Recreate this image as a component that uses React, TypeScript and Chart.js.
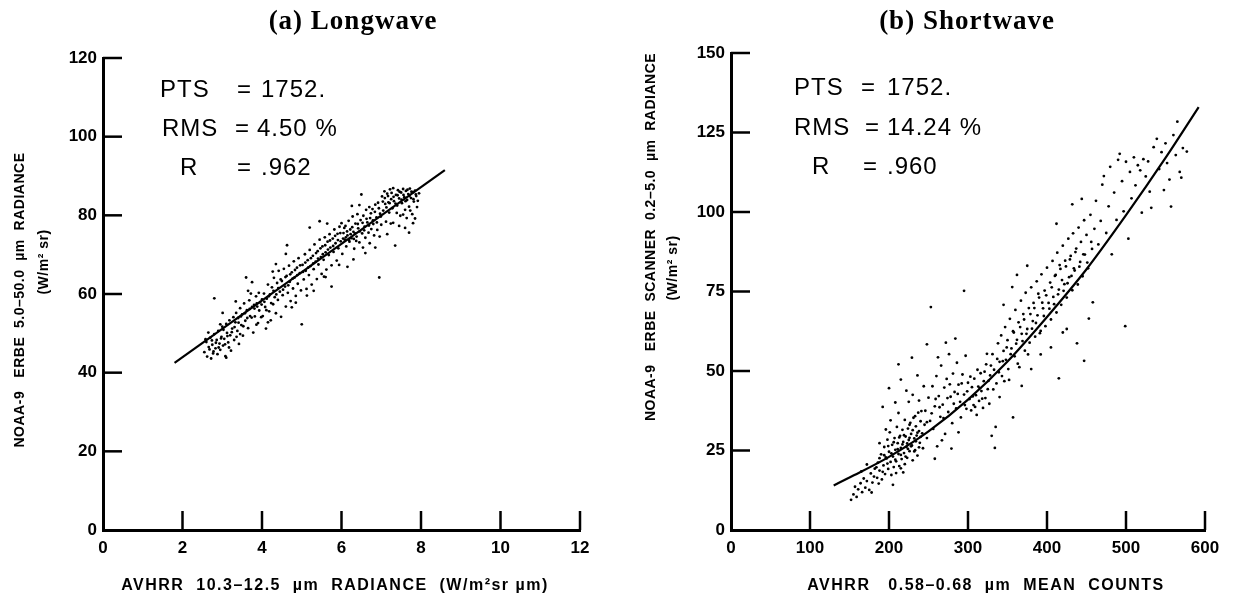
import React, { useEffect, useRef } from "react";
import { Chart, registerables } from "chart.js";

Chart.register(...registerables);

// ---------- DATA ----------
const LW_X_TICKS = [0, 2, 4, 6, 8, 10, 12];
const LW_Y_TICKS = [0, 20, 40, 60, 80, 100, 120];
const SW_X_TICKS = [0, 100, 200, 300, 400, 500, 600];
const SW_Y_TICKS = [0, 25, 50, 75, 100, 125, 150];

const LW_FIT: [number, number][] = [[1.8, 42.5], [8.6, 91.5]];
const SW_FIT: [number, number][] = [
  [130, 14], [150, 16.5], [200, 23], [250, 31], [300, 41], [350, 53],
  [400, 67], [450, 82], [500, 99], [550, 117], [592, 133],
];

const LW_STATS = ["1752.", "4.50 %", ".962"];
const SW_STATS = ["1752.", "14.24 %", ".960"];

const LW_POINTS: [number, number][] = [
  [2.55,45.2],[2.6,47.8],[2.62,44.1],[2.66,46.5],[2.7,48.9],[2.72,43.6],[2.75,47.1],[2.78,45.4],[2.8,49.8],[2.83,46.2],
  [2.86,48.3],[2.88,44.7],[2.9,50.6],[2.93,47.4],[2.95,45.8],[2.98,49.1],[3.0,51.7],[3.02,46.9],[3.05,48.6],[3.08,44.2],
  [3.1,52.4],[3.12,50.1],[3.15,47.7],[3.18,53.3],[3.2,49.5],[3.22,45.6],[3.25,51.2],[3.28,54.1],[3.3,48.3],[3.33,52.8],
  [2.65,50.2],[2.58,48.5],[2.8,58.9],[2.95,52.3],[3.1,43.8],
  [3.35,55.2],[3.38,50.6],[3.4,53.9],[3.42,47.3],[3.45,56.4],[3.48,52.1],[3.5,54.8],[3.52,49.4],[3.55,57.6],[3.58,53.2],
  [3.6,64.2],[3.62,55.9],[3.65,51.3],[3.68,58.4],[3.7,54.4],[3.72,60.1],[3.75,56.7],[3.78,50.2],[3.8,57.2],[3.82,54.3],
  [3.85,59.4],[3.88,56.8],[3.9,52.6],[3.92,60.3],[3.95,57.9],[3.98,54.1],[4.0,58.6],[3.65,60.8],[3.45,49.8],[3.75,63.0],
  [4.02,54.4],[4.05,60.1],[4.08,56.7],[4.1,51.2],[4.12,58.8],[4.15,62.4],[4.18,55.6],[4.2,59.9],[4.22,53.3],[4.25,61.7],
  [4.28,57.4],[4.3,64.1],[4.32,59.2],[4.35,55.1],[4.38,62.8],[4.4,58.5],[4.42,65.9],[4.45,60.6],[4.48,54.2],[4.5,63.3],
  [4.52,59.7],[4.55,66.4],[4.58,61.9],[4.6,56.8],[4.62,64.6],[4.65,60.3],[4.68,67.2],[4.7,63.1],[4.72,58.2],[4.75,65.5],
  [4.78,61.4],[4.8,68.3],[4.82,64.2],[4.85,59.5],[4.88,66.7],[4.9,62.6],[4.92,69.1],[4.95,65.3],[4.98,60.9],[5.0,52.3],
  [4.35,67.6],[4.15,52.8],[4.6,70.2],[4.75,56.6],
  [5.02,67.4],[5.05,63.7],[5.08,70.1],[5.1,65.9],[5.12,61.3],[5.15,68.6],[5.18,64.8],[5.2,71.2],[5.22,67.1],[5.25,62.4],
  [5.28,69.7],[5.3,66.3],[5.32,72.6],[5.35,68.2],[5.38,63.8],[5.4,70.9],[5.42,67.5],[5.45,73.8],[5.48,69.4],[5.5,65.1],
  [5.52,72.1],[5.55,68.7],[5.58,74.4],[5.6,70.6],[5.62,66.2],[5.65,73.3],[5.68,69.9],[5.7,75.2],[5.72,71.8],[5.75,67.3],
  [5.78,74.1],[5.8,70.7],[5.82,76.4],[5.85,72.9],[5.88,68.5],[5.9,75.3],[5.92,71.6],[5.95,77.1],[5.98,73.4],[6.0,78.0],
  [5.3,60.8],[5.6,64.3],[5.45,78.5],[5.75,61.9],[5.2,76.9],
  [6.02,70.2],[6.05,75.5],[6.08,73.8],[6.1,77.3],[6.12,72.1],[6.15,74.9],[6.18,78.6],[6.2,73.3],[6.22,76.4],[6.25,74.2],
  [6.28,79.7],[6.3,75.8],[6.32,71.5],[6.35,77.9],[6.38,74.6],[6.4,80.3],[6.42,76.7],[6.45,73.1],[6.48,78.8],[6.5,85.3],
  [6.52,75.4],[6.55,79.9],[6.58,77.1],[6.6,74.3],[6.62,81.4],[6.65,78.2],[6.68,75.6],[6.7,82.1],[6.72,79.3],[6.75,76.5],
  [6.78,81.6],[6.8,77.8],[6.82,74.9],[6.85,82.7],[6.88,79.5],[6.9,76.3],[6.92,83.2],[6.95,64.2],[6.97,80.4],[7.0,77.6],
  [6.3,68.8],[6.6,70.4],[6.85,71.8],[6.15,66.9],[6.45,82.6],
  [7.02,84.8],[7.05,81.2],[7.08,86.1],[7.1,82.9],[7.12,78.4],[7.15,85.5],[7.18,83.3],[7.2,80.7],[7.22,86.6],[7.25,84.1],
  [7.28,81.8],[7.3,86.9],[7.32,83.6],[7.35,72.3],[7.37,85.2],[7.4,82.5],[7.42,86.4],[7.45,84.3],[7.48,79.9],[7.5,85.8],
  [7.52,83.1],[7.55,86.7],[7.58,84.6],[7.6,81.4],[7.62,86.2],[7.65,83.9],[7.68,85.4],[7.7,82.2],[7.72,86.8],[7.75,84.4],
  [7.78,80.3],[7.8,85.9],[7.82,83.5],[7.85,86.3],[7.88,84.9],[7.9,82.1],[7.6,76.8],[7.45,77.3],[7.7,75.6],[7.85,79.2],
  [7.15,75.2],[7.3,78.1],[7.55,80.2],[7.8,78.0],[7.95,85.6],
  [2.68,45.9],[2.74,48.2],[2.77,44.9],[2.84,47.6],[2.91,46.4],[2.97,48.7],[3.03,50.9],[3.07,47.2],[3.13,49.3],[3.17,46.4],
  [3.24,50.3],[3.31,51.6],[3.36,49.1],[3.41,52.7],[3.47,54.3],[3.53,51.8],[3.57,55.1],[3.63,53.9],[3.69,56.2],[3.74,54.0],
  [3.81,56.3],[3.87,57.6],[3.93,55.8],[3.99,57.3],[4.06,58.0],[4.11,55.9],[4.17,59.4],[4.23,57.7],[4.29,60.8],[4.36,59.9],
  [4.41,61.5],[4.47,63.7],[4.53,61.1],[4.59,64.3],[4.66,62.2],[4.71,65.0],[4.77,63.9],[4.83,66.1],[4.89,64.8],[4.96,67.3],
  [5.03,65.6],[5.09,68.0],[5.16,66.7],[5.23,69.1],[5.29,67.8],[5.36,70.4],[5.41,69.0],[5.47,71.6],[5.53,70.1],[5.59,72.4],
  [5.66,71.3],[5.71,73.6],[5.79,72.2],[5.84,74.8],[5.91,73.7],[5.97,75.5],[6.04,74.1],[6.07,76.8],[6.11,74.4],[6.14,75.9],
  [6.19,73.7],[6.23,75.2],[6.27,77.0],[6.31,74.0],[6.34,75.4],[6.37,73.5],[6.41,77.8],[6.46,75.9],[6.53,78.1],[6.57,76.2],
  [6.63,79.1],[6.69,77.4],[6.74,80.5],[6.79,78.7],[6.84,80.9],[6.89,78.2],[6.94,81.8],[6.99,79.7],[7.04,83.5],[7.09,84.4],
  [7.13,82.0],[7.17,84.9],[7.21,83.1],[7.26,85.7],[7.31,84.7],[7.36,83.0],[7.41,85.1],[7.46,86.0],[7.51,84.0],[7.56,85.2],
  [7.61,83.6],[7.66,86.5],[7.71,84.9],[7.76,86.0],[7.81,84.1],[7.87,85.3],[7.92,83.7],[7.73,81.2],[7.64,79.3],[7.39,80.6],
  [7.24,77.9],[6.96,74.6],[6.71,72.9],[6.54,71.8],[5.94,67.4],[5.56,64.4],[5.13,59.6],[4.63,72.4],[4.27,65.7],[3.86,52.2],
  [3.34,58.1],[3.01,55.2],[4.85,57.8],[5.64,77.9],[6.26,82.4],
];

const SW_POINTS: [number, number][] = [
  [152,9.5],[155,11.2],[157,13.6],[159,10.4],[161,12.8],[164,14.7],[166,11.9],[168,16.2],[170,13.3],[172,15.4],
  [175,12.6],[177,17.8],[179,14.9],[182,19.3],[165,18.4],[172,20.6],[178,11.8],
  [185,16.4],[186,21.2],[188,18.7],[190,23.8],[191,15.9],[193,20.3],[194,26.1],[195,17.6],[197,22.5],[198,28.4],
  [199,19.2],[200,24.6],[201,30.7],[202,21.4],[203,17.3],[204,26.8],[205,23.1],[206,19.8],[207,28.9],[208,25.2],
  [209,21.6],[210,32.4],[211,27.3],[212,23.9],[213,20.1],[214,29.6],[215,25.8],[216,22.3],[217,31.5],[218,27.7],
  [219,24.2],[220,34.6],[221,29.4],[222,26.1],[223,22.7],[224,31.9],[225,28.3],[226,24.8],[227,33.7],[228,30.2],
  [229,26.6],[230,21.9],[231,35.3],[232,28.8],[233,25.1],[234,32.6],[235,29.7],[236,23.4],[237,36.9],[238,31.1],
  [239,27.4],[240,34.2],[242,30.4],[243,25.7],[245,33.1],[196,31.6],[212,36.8],[225,40.3],[205,14.2],[218,18.1],
  [230,42.5],[188,27.3],[202,34.5],
  [192,38.7],[200,44.6],[208,40.1],[215,47.3],[222,43.8],[229,54.2],[236,48.6],[244,45.2],[238,40.7],[212,52.1],[248,58.4],
  [246,37.5],[248,28.9],[250,41.6],[252,34.3],[253,70.1],[255,45.2],[256,31.8],[258,38.9],[260,48.4],[261,26.3],
  [263,42.1],[265,35.6],[266,51.7],[268,39.4],[270,44.8],[271,30.2],[273,47.5],[275,37.1],[276,55.3],[278,41.9],
  [280,33.6],[281,49.2],[283,43.4],[285,38.2],[286,52.6],[288,45.7],[290,40.3],[291,35.4],[293,48.9],[295,75.2],
  [295,42.6],[297,54.8],[298,38.1],[300,46.3],[258,22.4],[267,28.2],[279,25.6],[288,30.7],[272,58.9],[262,54.3],[284,60.2],
  [302,41.2],[304,37.6],[305,44.9],[307,39.3],[308,47.6],[310,42.4],[311,36.2],[313,45.1],[314,40.6],[316,49.3],
  [317,43.7],[319,38.4],[320,46.8],[322,41.5],[323,52.1],[325,44.3],[327,39.7],[328,48.6],
  [334,25.8],[335,32.4],[330,29.6],
  [331,55.3],[333,50.4],[336,46.1],[338,58.7],[340,52.9],[342,61.2],[343,48.4],[345,56.3],[347,63.8],[348,53.5],
  [350,59.7],[352,47.2],[353,66.4],[355,57.1],[357,35.4],[357,62.5],[359,54.6],[360,69.2],[362,59.8],[364,65.3],
  [365,51.2],[367,72.1],[368,61.7],[370,67.9],[372,56.4],[373,74.6],[375,63.2],[377,69.8],[378,58.9],[380,76.3],
  [382,65.7],[383,71.4],[385,60.8],[387,78.2],[388,67.5],[390,73.1],[392,62.6],[393,80.4],[395,69.7],[397,75.3],
  [398,64.1],[400,82.5],[345,70.8],[356,76.4],[368,45.3],[380,50.6],[392,55.2],[340,41.8],[375,83.1],[362,80.2],
  [402,71.4],[404,77.8],[405,66.2],[407,84.6],[408,73.3],[410,79.9],[412,68.4],[413,87.2],[415,47.7],[415,75.6],
  [417,82.1],[418,70.8],[420,89.4],[422,77.3],[423,84.7],[425,73.1],[427,91.6],[428,79.5],[430,86.2],[432,75.4],
  [433,93.3],[435,81.6],[437,88.5],[438,58.7],[439,77.2],[440,95.1],[442,84.3],[443,90.6],[445,79.8],[447,53.2],
  [447,97.4],[448,86.6],[450,92.8],[452,82.3],[453,66.5],[455,99.1],[457,88.4],[458,71.6],[460,94.7],[405,57.4],
  [425,63.2],[432,102.4],[444,104.1],[412,96.3],[420,62.1],
  [462,103.5],[465,89.8],[468,97.2],[470,108.6],[472,111.3],[475,93.4],[478,101.8],[480,114.2],[482,86.7],[485,106.1],
  [488,97.5],[490,116.4],[492,118.3],[495,109.7],[497,100.2],[499,64.1],[500,115.8],[503,91.6],[505,112.6],[507,104.3],
  [510,117.2],[512,108.4],[515,114.7],[518,113.1],[520,99.8],[522,116.6],[525,111.2],[528,115.9],[530,106.4],[532,101.3],
  [535,120.4],[539,123.0],[542,113.5],[545,118.8],[548,106.9],[550,121.6],[552,115.4],[555,110.2],[557,101.7],[560,124.2],
  [563,117.9],[565,128.4],[568,112.6],[570,110.8],[572,120.1],[577,119.0],
  [196,22.8],[199,26.4],[203,24.1],[206,27.6],[208,22.1],[211,25.4],[213,29.1],[215,23.6],[217,26.9],[219,29.8],
  [221,23.1],[223,27.2],[224,25.5],[226,29.0],[228,26.3],[230,31.4],[232,24.7],[234,27.9],[236,30.6],[238,26.0],
  [240,29.3],[215,19.4],[209,17.9],[198,20.9],[192,18.3],[188,22.6],[184,19.7],[181,16.8],[187,14.6],[194,23.5],
  [220,20.7],[226,33.1],[233,35.8],[241,37.4],
  [248,33.9],[254,36.7],[259,41.2],[264,38.6],[269,35.2],[274,41.5],[277,45.8],[282,39.7],[287,42.8],[292,46.1],
  [296,39.3],[299,43.6],[303,48.2],[306,42.0],[309,38.7],[312,50.4],[315,44.6],[318,41.3],[321,49.8],[324,55.4],
  [326,46.9],[329,51.7],[332,44.2],[337,53.8],[339,49.6],[344,53.1],[346,46.8],[349,57.4],[351,50.6],[354,55.3],
  [358,62.1],[361,58.6],[363,52.3],[366,63.8],[369,59.4],[371,66.2],[374,61.7],[376,55.2],[379,67.9],[381,63.3],
  [384,69.8],[386,65.1],[389,74.3],[391,61.9],[394,71.5],[396,67.3],[399,73.8],[403,69.6],[406,76.3],[409,71.0],
  [411,80.2],[414,74.1],[416,83.3],[419,78.6],[421,75.2],[424,82.9],[426,77.6],[429,85.1],[431,79.9],[434,82.3],
  [436,87.4],[441,82.8],[446,86.7],[451,84.1],[456,90.6],
];

// ---------- PANEL LAYOUT ----------
type PanelCfg = {
  left: number;
  padding: { left: number; right: number; top: number; bottom: number };
  points: [number, number][];
  fit: [number, number][];
  curved: boolean;
  xTicks: number[];
  yTicks: number[];
  title: string;
  titleX: number;
  stats: string[];
  statRows: { label: string; lx: number; ex: number; vx: number; y: number }[];
  xTitle: string;
  xTitleX: number;
  yTitle1: string;
  yTitle1Pos: [number, number];
  yTitle2: string;
  yTitle2Pos: [number, number];
};

const LEFT_CFG: PanelCfg = {
  left: 0,
  padding: { left: 63, right: 37, top: 58, bottom: 36 },
  points: LW_POINTS,
  fit: LW_FIT,
  curved: false,
  xTicks: LW_X_TICKS,
  yTicks: LW_Y_TICKS,
  title: "(a) Longwave",
  titleX: 353,
  stats: LW_STATS,
  statRows: [
    { label: "PTS", lx: 160, ex: 237, vx: 261, y: 97 },
    { label: "RMS", lx: 162, ex: 235, vx: 257, y: 136 },
    { label: "R", lx: 180, ex: 237, vx: 261, y: 175 },
  ],
  xTitle: "AVHRR  10.3–12.5  µm  RADIANCE  (W/m²sr µm)",
  xTitleX: 335,
  yTitle1: "NOAA-9   ERBE  5.0–50.0  µm  RADIANCE",
  yTitle1Pos: [20, 300],
  yTitle2: "(W/m² sr)",
  yTitle2Pos: [44, 262],
};

const RIGHT_CFG: PanelCfg = {
  left: 617,
  padding: { left: 74, right: 29, top: 53, bottom: 36 },
  points: SW_POINTS,
  fit: SW_FIT,
  curved: true,
  xTicks: SW_X_TICKS,
  yTicks: SW_Y_TICKS,
  title: "(b) Shortwave",
  titleX: 350,
  stats: SW_STATS,
  statRows: [
    { label: "PTS", lx: 177, ex: 244, vx: 270, y: 95 },
    { label: "RMS", lx: 177, ex: 248, vx: 270, y: 135 },
    { label: "R", lx: 195, ex: 246, vx: 270, y: 174 },
  ],
  xTitle: "AVHRR   0.58–0.68  µm  MEAN  COUNTS",
  xTitleX: 369,
  yTitle1: "NOAA-9   ERBE  SCANNER  0.2–5.0  µm  RADIANCE",
  yTitle1Pos: [34, 237],
  yTitle2: "(W/m² sr)",
  yTitle2Pos: [56, 268],
};

function makeDecor(cfg: PanelCfg) {
  return {
    id: "decor",
    afterDraw(chart: any) {
      const { ctx, chartArea: ca, scales } = chart;
      const xs = scales.x;
      const ys = scales.y;
      ctx.save();
      ctx.strokeStyle = "#000";
      ctx.fillStyle = "#000";
      ctx.lineWidth = 2.5;
      // inward ticks
      xs.ticks.forEach((t: any) => {
        if (t.value === xs.min) return;
        const px = xs.getPixelForValue(t.value);
        ctx.beginPath();
        ctx.moveTo(px, ca.bottom);
        ctx.lineTo(px, ca.bottom - 19);
        ctx.stroke();
      });
      ys.ticks.forEach((t: any) => {
        if (t.value === ys.min) return;
        const py = ys.getPixelForValue(t.value);
        ctx.beginPath();
        ctx.moveTo(ca.left, py);
        ctx.lineTo(ca.left + 19, py);
        ctx.stroke();
      });
      // title
      ctx.font = 'bold 27px "Liberation Serif"';
      (ctx as any).letterSpacing = "1px";
      ctx.textAlign = "center";
      ctx.textBaseline = "alphabetic";
      ctx.fillText(cfg.title, cfg.titleX, 29);
      // stats
      ctx.font = '24px "Liberation Sans"';
      (ctx as any).letterSpacing = "1px";
      ctx.textAlign = "left";
      cfg.statRows.forEach((r, i) => {
        ctx.fillText(r.label, r.lx, r.y);
        ctx.fillText("=", r.ex, r.y);
        ctx.fillText(cfg.stats[i], r.vx, r.y);
      });
      // x title
      ctx.font = 'bold 16px "Liberation Sans"';
      (ctx as any).letterSpacing = "1.5px";
      ctx.textAlign = "center";
      ctx.fillText(cfg.xTitle, cfg.xTitleX, 590);
      // y titles
      ctx.font = 'bold 14px "Liberation Sans"';
      (ctx as any).letterSpacing = "0.5px";
      ctx.textBaseline = "middle";
      const drawRot = (txt: string, pos: [number, number]) => {
        ctx.save();
        ctx.translate(pos[0], pos[1]);
        ctx.rotate(-Math.PI / 2);
        ctx.fillText(txt, 0, 0);
        ctx.restore();
      };
      drawRot(cfg.yTitle1, cfg.yTitle1Pos);
      drawRot(cfg.yTitle2, cfg.yTitle2Pos);
      ctx.restore();
    },
  };
}

function Panel({ cfg }: { cfg: PanelCfg }) {
  const ref = useRef<HTMLCanvasElement>(null);
  useEffect(() => {
    if (!ref.current) return;
    const tickFont = { family: "Liberation Sans", size: 17, weight: "bold" as const };
    const chart = new Chart(ref.current, {
      type: "scatter",
      data: {
        datasets: [
          {
            data: cfg.points.map(([x, y]) => ({ x, y })),
            backgroundColor: "#000",
            borderWidth: 0,
            pointRadius: 1.4,
            pointStyle: "circle",
          },
          {
            type: "line",
            data: cfg.fit.map(([x, y]) => ({ x, y })),
            borderColor: "#000",
            borderWidth: 2.2,
            pointRadius: 0,
            fill: false,
            tension: cfg.curved ? 0.4 : 0,
            cubicInterpolationMode: cfg.curved ? "monotone" : "default",
          } as any,
        ],
      },
      options: {
        animation: false,
        responsive: false,
        events: [],
        layout: { padding: cfg.padding },
        plugins: {
          legend: { display: false },
          tooltip: { enabled: false },
          title: { display: false },
        },
        scales: {
          x: {
            type: "linear",
            min: cfg.xTicks[0],
            max: cfg.xTicks[cfg.xTicks.length - 1],
            afterBuildTicks: (s: any) => {
              s.ticks = cfg.xTicks.map((v) => ({ value: v }));
            },
            afterFit: (s: any) => {
              s.height = 30;
            },
            grid: { display: false, drawTicks: false },
            border: { display: true, color: "#000", width: 3 },
            ticks: {
              color: "#000",
              font: tickFont,
              padding: 8,
              maxRotation: 0,
              autoSkip: false,
            },
          },
          y: {
            type: "linear",
            min: cfg.yTicks[0],
            max: cfg.yTicks[cfg.yTicks.length - 1],
            afterBuildTicks: (s: any) => {
              s.ticks = cfg.yTicks.map((v) => ({ value: v }));
            },
            afterFit: (s: any) => {
              s.width = 40;
            },
            grid: { display: false, drawTicks: false },
            border: { display: true, color: "#000", width: 3 },
            ticks: {
              color: "#000",
              font: tickFont,
              padding: 6,
              autoSkip: false,
            },
          },
        },
      },
      plugins: [makeDecor(cfg)],
    });
    return () => chart.destroy();
  }, [cfg]);
  return (
    <canvas
      ref={ref}
      width={617}
      height={596}
      style={{ position: "absolute", left: cfg.left, top: 0, width: 617, height: 596 }}
    />
  );
}

export default function App() {
  return (
    <div style={{ position: "fixed", left: 0, top: 0, width: 1234, height: 596, background: "#fff", overflow: "hidden" }}>
      <Panel cfg={LEFT_CFG} />
      <Panel cfg={RIGHT_CFG} />
    </div>
  );
}
